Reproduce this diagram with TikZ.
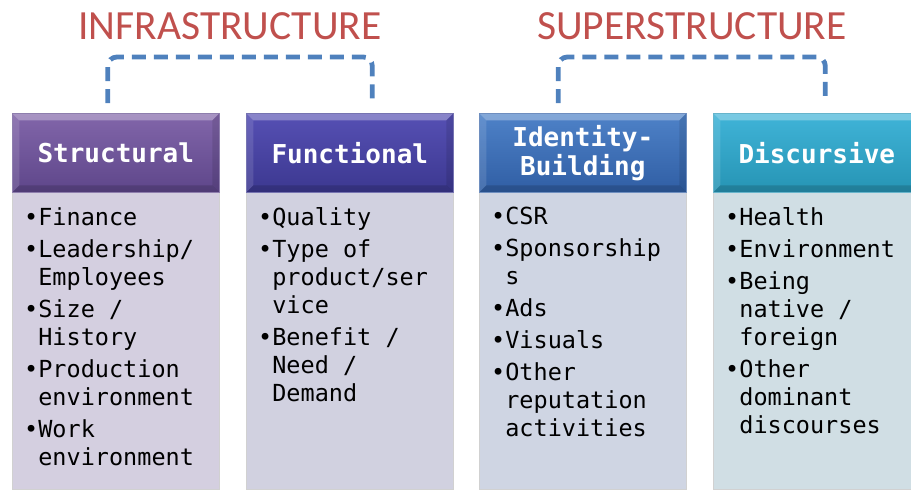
\documentclass[tikz,border=0pt]{standalone}
\usepackage{fontspec}
\usepackage{tikz}
\usetikzlibrary{calc}
\usepackage{xcolor}

\newfontfamily\fuentetitulo{Carlito}
\newfontfamily\fuentemono{DejaVu Sans Mono}

% Colores
\definecolor{rojotit}{RGB}{192,80,77}
\definecolor{azullinea}{RGB}{79,129,189}
\definecolor{purpA}{RGB}{130,102,170}
\definecolor{purpB}{RGB}{94,70,138}
\definecolor{purpC}{RGB}{212,207,224}
\definecolor{indiA}{RGB}{86,80,180}
\definecolor{indiB}{RGB}{60,56,144}
\definecolor{indiC}{RGB}{209,209,224}
\definecolor{bluA}{RGB}{78,130,200}
\definecolor{bluB}{RGB}{48,94,164}
\definecolor{bluC}{RGB}{207,213,227}
\definecolor{tealA}{RGB}{64,180,216}
\definecolor{tealB}{RGB}{38,148,180}
\definecolor{tealC}{RGB}{208,222,228}

\newcommand\sangria{\hphantom{•}}

\tikzset{
    hdr/.style={rectangle, anchor=north west, minimum width=207pt, minimum height=79pt,
        inner sep=0pt, top color=#1A, bottom color=#1B, draw=#1B!70!white, line width=0.6pt,
        text=white, align=center, font=\fuentemono\bfseries\fontsize{26}{29}\selectfont,
        path picture={
            \fill[white,opacity=0.3] (path picture bounding box.north west) -- (path picture bounding box.north east)
                -- ([shift={(-7pt,-7pt)}]path picture bounding box.north east) -- ([shift={(7pt,-7pt)}]path picture bounding box.north west) -- cycle;
            \fill[white,opacity=0.12] (path picture bounding box.north west) -- ([shift={(7pt,-7pt)}]path picture bounding box.north west)
                -- ([shift={(7pt,7pt)}]path picture bounding box.south west) -- (path picture bounding box.south west) -- cycle;
            \fill[black,opacity=0.1] (path picture bounding box.north east) -- ([shift={(-7pt,-7pt)}]path picture bounding box.north east)
                -- ([shift={(-7pt,7pt)}]path picture bounding box.south east) -- (path picture bounding box.south east) -- cycle;
            \fill[black,opacity=0.15] (path picture bounding box.south west) -- ([shift={(7pt,7pt)}]path picture bounding box.south west)
                -- ([shift={(-7pt,7pt)}]path picture bounding box.south east) -- (path picture bounding box.south east) -- cycle;
        }},
    bodybox/.style={rectangle, anchor=north west, minimum width=207pt, minimum height=297pt,
        inner sep=0pt, fill=#1C, draw=white!82!black, line width=0.8pt},
    lista/.style={anchor=north west, inner sep=0pt, align=left, text=black,
        font=\fuentemono\fontsize{23.5}{28}\selectfont},
    titulo/.style={text=rojotit, inner sep=0pt, font=\fuentetitulo\fontsize{41.5}{46}\selectfont},
    bracket/.style={draw=azullinea, line width=4.8pt, dash pattern=on 14pt off 8pt, rounded corners=9pt}
}

\begin{document}
\begin{tikzpicture}[x=1pt, y=-1pt]
    \useasboundingbox (0,0) rectangle (911,490);

    % Encabezados y cajas
    \foreach \nm/\x/\cl/\ttl in {struct/12/purp/Structural, func/246/indi/Functional,
                                 ident/479/blu/{Identity-\\Building}, disc/713/teal/Discursive} {
        \node[bodybox=\cl] (\nm-box) at (\x,192) {};
        \node[hdr=\cl] (\nm) at (\x,113) {\ttl};
    }

    % Listas
    \node[lista] (struct-list) at ([xshift=12pt,yshift=-15pt]struct-box.north west)
        {•Finance\\[4pt]•Leadership/\\\sangria Employees\\[4pt]•Size /\\\sangria History\\[4pt]%
         •Production\\\sangria environment\\[4pt]•Work\\\sangria environment};
    \node[lista] (func-list) at ([xshift=12pt,yshift=-15pt]func-box.north west)
        {•Quality\\[4pt]•Type of\\\sangria product/ser\\\sangria vice\\[4pt]%
         •Benefit /\\\sangria Need /\\\sangria Demand};
    \node[lista] (ident-list) at ([xshift=12pt,yshift=-15pt]ident-box.north west)
        {•CSR\\[4pt]•Sponsorship\\\sangria s\\[4pt]•Ads\\[4pt]•Visuals\\[4pt]%
         •Other\\\sangria reputation\\\sangria activities};
    \node[lista] (disc-list) at ([xshift=12pt,yshift=-15pt]disc-box.north west)
        {•Health\\[4pt]•Environment\\[4pt]•Being\\\sangria native /\\\sangria foreign\\[4pt]%
         •Other\\\sangria dominant\\\sangria discourses};

    % Corchetes
    \coordinate (infra-a) at ([xshift=-8pt,yshift=10pt]struct.north);
    \coordinate (infra-b) at ([xshift=22.5pt,yshift=10pt]func.north);
    \coordinate (super-a) at ([xshift=-24.5pt,yshift=10pt]ident.north);
    \coordinate (super-b) at ([xshift=8.5pt,yshift=10pt]disc.north);
    \draw[bracket] (infra-a) -- ++(0,-46) -| (infra-b);
    \draw[bracket] (super-a) -- ++(0,-46) -| (super-b);

    % Titulos
    \node[titulo] (infra) at (230,26) {INFRASTRUCTURE};
    \node[titulo] (super) at (692,26) {SUPERSTRUCTURE};
\end{tikzpicture}
\end{document}
